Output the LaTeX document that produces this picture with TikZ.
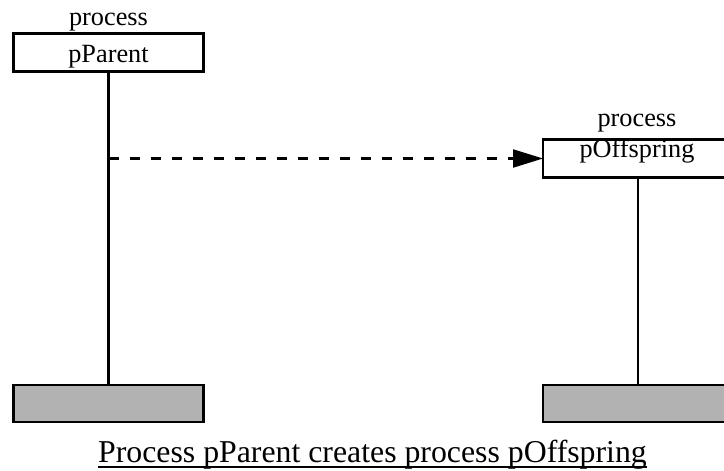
\documentclass[tikz,border=0pt]{standalone}
\usepackage{fontspec}
\setmainfont{Liberation Serif}
\usetikzlibrary{arrows.meta}
\tikzset{
  procbox/.style={draw=black, line width=2.2pt, fill=white, minimum width=190pt, minimum height=38pt, inner sep=0pt, outer sep=0pt},
  endbox/.style={draw=black, line width=2.2pt, fill=black!30, minimum width=190pt, minimum height=37pt, inner sep=0pt, outer sep=0pt},
  lbl/.style={inner sep=0pt, outer sep=0pt, anchor=base, font=\fontsize{26.3pt}{30pt}\selectfont},
  captext/.style={inner sep=0pt, outer sep=0pt, anchor=base, font=\fontsize{31.8pt}{36pt}\selectfont},
  lifeline/.style={line width=2.2pt},
  msg/.style={line width=2.2pt, dash pattern=on 10pt off 11pt, -{Triangle[length=30pt,width=18pt]}}
}
\begin{document}
\begin{tikzpicture}[x=1pt,y=-1pt]
\useasboundingbox (0,0) rectangle (724,471);
% left process
\node[lbl] (ppl) at (108.5,25) {process};
\node[procbox] (pp) at (108.5,52.5) {};
\node[lbl] (ppt) at (108.5,62) {pParent};
\node[endbox] (ppe) at (108.5,403.5) {};
\draw[lifeline] (pp.south) -- (ppe.north);
% right process
\node[procbox] (po) at (638,158.5) {};
\node[lbl] (pol) at (637,126) {process};
\node[lbl] (pot) at (637,157) {pOffspring};
\node[endbox] (poe) at (638,403.5) {};
\draw[lifeline] (po.south) -- (poe.north);
% create message
\coordinate (m) at (108.5,158.5);
\draw[msg] (m) -- (po.west);
% caption
\node[captext] (c) at (372.5,462) {Process pParent creates process pOffspring};
\draw[line width=1.6pt] ([yshift=-5pt]c.base west) -- ([yshift=-5pt]c.base east);
\end{tikzpicture}
\end{document}
